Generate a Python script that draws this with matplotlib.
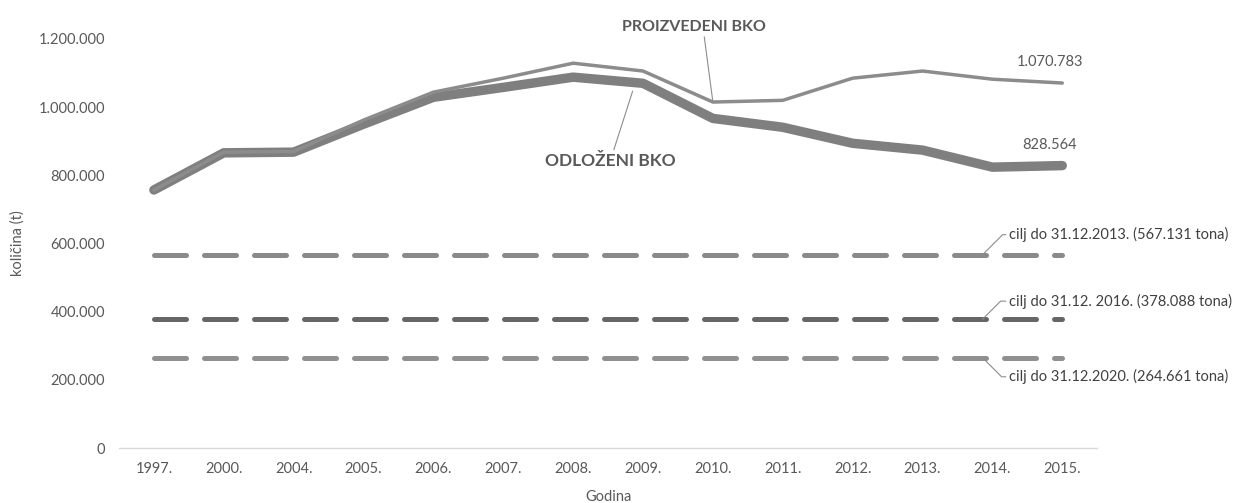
import matplotlib.pyplot as plt

years = ["1997.", "2000.", "2004.", "2005.", "2006.", "2007.", "2008.",
         "2009.", "2010.", "2011.", "2012.", "2013.", "2014.", "2015."]
proizvedeni = [757000, 868000, 870000, 962000, 1044000, 1085000, 1129000,
               1106000, 1015000, 1020000, 1085000, 1106000, 1082000, 1070783]
odlozeni = [757000, 866000, 868000, 950000, 1029000, 1058000, 1088000,
            1070000, 967000, 941000, 894000, 874000, 824000, 828564]
cilj_2013 = 567131
cilj_2016 = 378088
cilj_2020 = 264661

TXT = "#595959"
plt.rcParams["font.family"] = ["Lato", "DejaVu Sans"]


def fmt(v):
    return f"{v:,}".replace(",", ".")


fig = plt.figure(figsize=(12.43, 5.03), dpi=100)
ax = fig.add_axes([0.0957, 0.1093, 0.787, 0.8132])
x = list(range(len(years)))

for val, col in [(cilj_2013, "#8a8a8a"), (cilj_2016, "#666666"), (cilj_2020, "#909090")]:
    ln, = ax.plot(x, [val] * len(x), color=col, lw=3.6, solid_capstyle="round",
                  dash_capstyle="round")
    ln.set_dashes([6.4, 3.6])

ax.plot(x, odlozeni, color="#7f7f7f", lw=6.8, solid_capstyle="round",
        solid_joinstyle="round", zorder=3)
ax.plot(x, proizvedeni, color="#8c8c8c", lw=2.5, solid_capstyle="round",
        solid_joinstyle="round", zorder=4)

ax.set_xlim(-0.5, len(years) - 0.5)
ax.set_ylim(0, 1200000)
ax.set_yticks(range(0, 1200001, 200000))
ax.set_yticklabels([fmt(v) for v in range(0, 1200001, 200000)])
ax.set_xticks(x)
ax.set_xticklabels(years)
ax.tick_params(length=0, labelsize=10.5, labelcolor=TXT, pad=10)
ax.tick_params(axis="y", pad=10)
for s in ["top", "right", "left"]:
    ax.spines[s].set_visible(False)
ax.spines["bottom"].set_color("#d9d9d9")
ax.spines["bottom"].set_linewidth(1)
ax.set_xlabel("Godina", fontsize=10.5, color=TXT, labelpad=10)
ax.set_ylabel("količina (t)", fontsize=10.5, color=TXT, labelpad=10)

last = len(years) - 1
ax.annotate(fmt(proizvedeni[-1]), (last, proizvedeni[-1]), xytext=(-46, 21),
            textcoords="offset pixels", fontsize=10.5, color=TXT, va="center")
ax.annotate(fmt(odlozeni[-1]), (last, odlozeni[-1]), xytext=(-40, 21),
            textcoords="offset pixels", fontsize=10.5, color=TXT, va="center")

ax.annotate("PROIZVEDENI BKO", (8, proizvedeni[8]), xytext=(-91, 75),
            textcoords="offset pixels", fontsize=11.5, fontweight="bold", color=TXT,
            va="center", ha="left",
            arrowprops=dict(arrowstyle="-", color="#8c8c8c", lw=0.8,
                            shrinkA=0, shrinkB=0, relpos=(0.57, 0)))
ax.annotate("ODLOŽENI BKO", (6.9, 1078000), xytext=(-91, -80),
            textcoords="offset pixels", fontsize=12.5, fontweight="bold", color=TXT,
            va="center", ha="left",
            arrowprops=dict(arrowstyle="-", color="#8c8c8c", lw=0.8,
                            shrinkA=0, shrinkB=8, relpos=(0.52, 1.0)))

targets = [("cilj do 31.12.2013. (567.131 tona)", cilj_2013, 20, 45),
           ("cilj do 31.12. 2016. (378.088 tona)", cilj_2016, 18, 45),
           ("cilj do 31.12.2020. (264.661 tona)", cilj_2020, -19, -45)]
for label, val, dy, ang in targets:
    ax.annotate(label, (11.86, val), xytext=(26, dy), textcoords="offset pixels",
                fontsize=10.5, color="#404040", va="center", ha="left",
                annotation_clip=False,
                arrowprops=dict(arrowstyle="-", color="#8c8c8c", lw=0.8,
                                shrinkA=0, shrinkB=0, relpos=(0, 0.5),
                                connectionstyle=f"angle,angleA=0,angleB={ang},rad=0"))

fig.savefig("out.png", dpi=100, facecolor="white")
